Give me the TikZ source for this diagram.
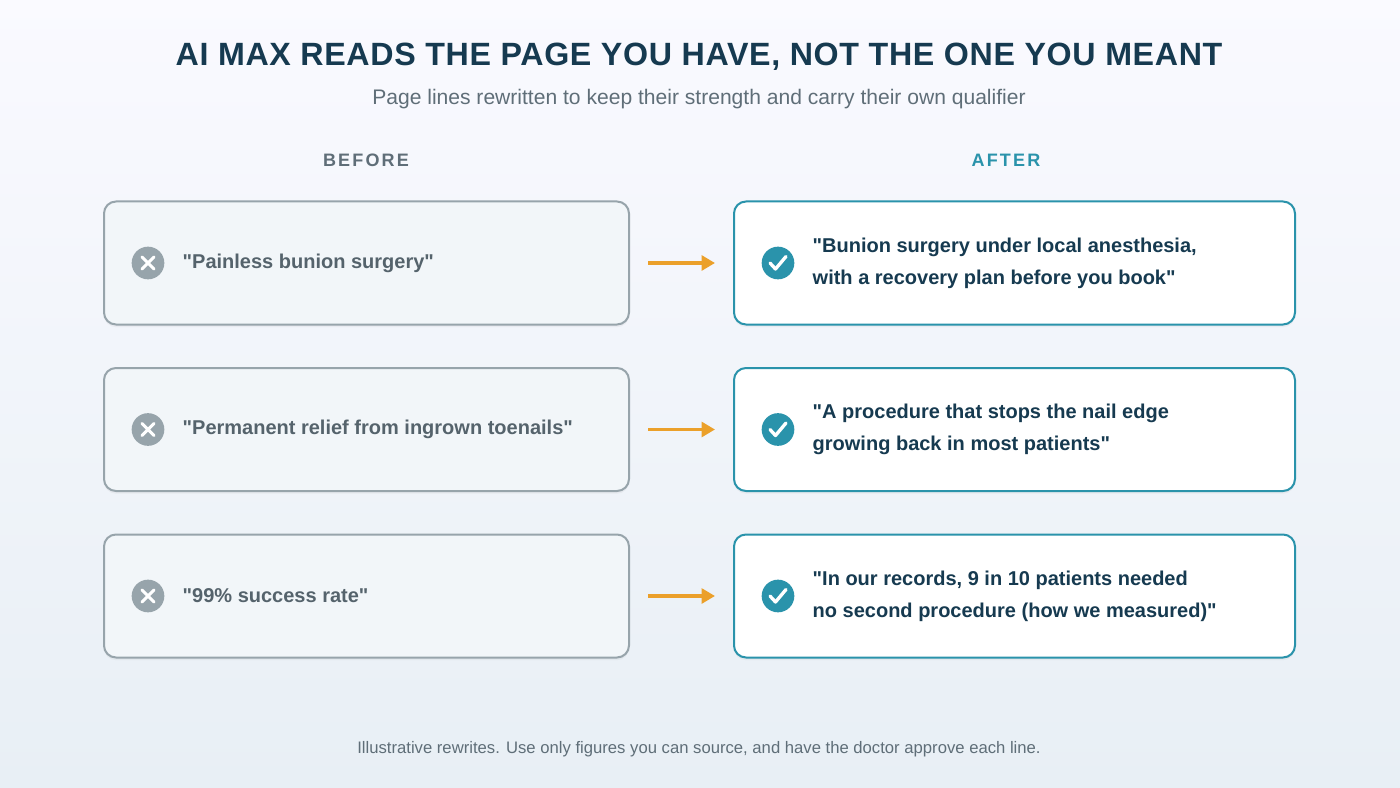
\documentclass[tikz,border=0pt]{standalone}
\usepackage{fontspec}
\setmainfont{Liberation Sans}[Ligatures=TeXOff]
\newfontfamily\widefont[LetterSpace=12]{Liberation Sans}
\newfontfamily\titlefont[LetterSpace=2]{Liberation Sans}
\usetikzlibrary{positioning,arrows.meta,shadows}
\newcommand\dq{\symbol{34}}
\definecolor{navy}{HTML}{163A50}
\definecolor{slate}{HTML}{5F6E78}
\definecolor{teal}{HTML}{2A93AB}
\definecolor{greybox}{HTML}{97A4AB}
\definecolor{paleblue}{HTML}{F2F6F9}
\definecolor{amber}{HTML}{EBA02A}
\tikzset{
  oldbox/.style = {draw = greybox, fill = paleblue, line width = 1.5pt, rounded corners = 9pt,
    minimum width = 393.75pt, minimum height = 92.25pt, drop shadow = {opacity = .08, shadow xshift = 0pt, shadow yshift = -2pt}},
  newbox/.style = {draw = teal, fill = white, line width = 1.5pt, rounded corners = 9pt,
    minimum width = 420.75pt, minimum height = 92.25pt, drop shadow = {opacity = .08, shadow xshift = 0pt, shadow yshift = -2pt}},
  oldtext/.style = {anchor = west, font = \fontsize{15}{18}\selectfont\bfseries, text = slate!90!black},
  newtext/.style = {anchor = west, font = \fontsize{15}{24}\selectfont\bfseries, text = navy, align = left},
  swap/.style = {-{Triangle[length = 10pt, width = 11pt]}, amber, line width = 2.6pt, shorten <= 13.5pt, shorten >= 13.5pt}
}
\begin{document}
\begin{tikzpicture}[x = .75pt, y = -.75pt]
    \shade[top color = blue!2!white, bottom color = {rgb,255:red,232;green,239;blue,245}] (0,0) rectangle (1400,788);
    \useasboundingbox (0,0) rectangle (1400,788);
    \node[font = \titlefont\fontsize{24.15}{28}\selectfont\bfseries, text = navy] (title) at (699,57) {AI MAX READS THE PAGE YOU HAVE, NOT THE ONE YOU MEANT};
    \node[font = \fontsize{15.8}{18}\selectfont, text = slate] (subtitle) at (699,99) {Page lines rewritten to keep their strength and carry their own qualifier};
    \node[font = \widefont\fontsize{13.5}{16}\selectfont\bfseries, text = slate] (before) at (366,160) {BEFORE};
    \node[font = \widefont\fontsize{13.5}{16}\selectfont\bfseries, text = teal] (after) at (1006,160) {AFTER};
    \foreach \row/\old/\new in {
        1/{\dq Painless bunion surgery\dq}/{\dq Bunion surgery under local anesthesia,\\with a recovery plan before you book\dq},
        2/{\dq Permanent relief from ingrown toenails\dq}/{\dq A procedure that stops the nail edge\\growing back in most patients\dq},
        3/{\dq 99\% success rate\dq}/{\dq In our records, 9 in 10 patients needed\\no second procedure (how we measured)\dq}} {
        \pgfmathsetmacro{\ypos}{263 + (\row - 1)*166.5}
        \node[oldbox] (b\row) at (366.5,\ypos) {};
        \node[newbox] (a\row) at (1014.5,\ypos) {};
        % icons
        \node[circle, fill = greybox, minimum size = 24.5pt, inner sep = 0pt] (x\row) at (148,\ypos) {};
        \draw[white, line width = 2.3pt, line cap = round] ([shift = {(-6,-6)}]x\row.center) -- ([shift = {(6,6)}]x\row.center)
            ([shift = {(-6,6)}]x\row.center) -- ([shift = {(6,-6)}]x\row.center);
        \node[circle, fill = teal, minimum size = 24.5pt, inner sep = 0pt] (c\row) at (778,\ypos) {};
        \draw[white, line width = 2.5pt, line cap = round, line join = round] ([shift = {(-8,0)}]c\row.center)
            -- ([shift = {(-2.5,6)}]c\row.center) -- ([shift = {(8,-6.5)}]c\row.center);
        \node[oldtext] (ot\row) at (178,\ypos) {\old};
        \node[newtext] (nt\row) at (808,\ypos) {\new};
        \draw[swap] (b\row.east) -- (a\row.west);
    }
    \node[font = \fontsize{12.5}{14}\selectfont, text = slate] (footer) at (699,749) {Illustrative rewrites. Use only figures you can source, and have the doctor approve each line.};
\end{tikzpicture}
\end{document}
